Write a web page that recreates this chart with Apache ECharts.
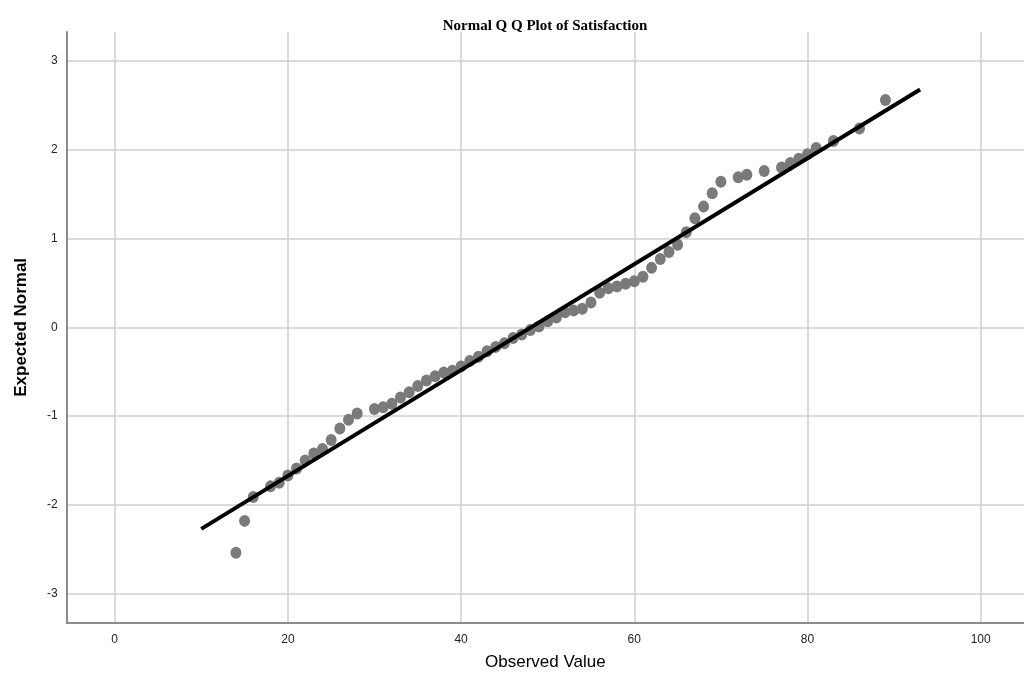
<!DOCTYPE html>
<html>
<head>
<meta charset="utf-8">
<script src="https://cdn.jsdelivr.net/npm/echarts@6/dist/echarts.min.js"></script>
<style>html,body{margin:0;padding:0;background:#fff}#c{width:1024px;height:693px}</style>
</head>
<body>
<div id="c"></div>
<script>
const observed = [14,15,16,18,19,20,21,22,23,24,25,26,27,28,30,31,32,33,34,35,36,37,38,39,40,41,42,43,44,45,46,47,48,49,50,51,52,53,54,55,56,57,58,59,60,61,62,63,64,65,66,67,68,69,70,72,73,75,77,78,79,80,81,83,86,89];
const expected = [-2.54,-2.18,-1.91,-1.79,-1.75,-1.67,-1.59,-1.50,-1.42,-1.37,-1.27,-1.14,-1.04,-0.97,-0.92,-0.90,-0.86,-0.79,-0.73,-0.66,-0.60,-0.55,-0.51,-0.49,-0.44,-0.38,-0.33,-0.27,-0.22,-0.18,-0.12,-0.08,-0.03,0.01,0.07,0.11,0.17,0.19,0.21,0.28,0.39,0.44,0.46,0.49,0.52,0.57,0.67,0.77,0.85,0.93,1.07,1.23,1.36,1.51,1.64,1.69,1.72,1.76,1.80,1.85,1.90,1.95,2.02,2.10,2.24,2.56];
const lineX = [10, 93];
const lineY = [-2.27, 2.68];
const xTicks = [0,20,40,60,80,100];
const yTicks = [-3,-2,-1,0,1,2,3];

const points = observed.map((v,i)=>[v, expected[i]]);
const linePts = lineX.map((v,i)=>[v, lineY[i]]);

const chart = echarts.init(document.getElementById('c'));
chart.setOption({
  animation:false,
  backgroundColor:'#fff',
  title:{
    text:'Normal Q Q Plot of Satisfaction',
    left:540, top:14, textAlign:'center',
    textStyle:{fontFamily:'Liberation Serif', fontWeight:'bold', fontSize:15, color:'#000'}
  },
  grid:{left:66.7, right:0, top:32, bottom:70.3, containLabel:false},
  xAxis:{
    type:'value', min:-5.54, max:105,
    name:'Observed Value', nameLocation:'middle', nameGap:31,
    nameTextStyle:{fontFamily:'Liberation Sans', fontSize:17, color:'#000'},
    axisLine:{show:true, onZero:false, lineStyle:{color:'#8c8c8c', width:2}},
    axisTick:{show:false},
    axisLabel:{showMinLabel:false, showMaxLabel:false, margin:11, fontFamily:'Liberation Sans', fontSize:12, color:'#222',
      formatter:v=>xTicks.includes(v)?String(v):''},
    splitLine:{show:true, showMinLine:false, showMaxLine:false, lineStyle:{color:'#cfcfcf', width:1.5}}
  },
  yAxis:{
    type:'value', min:-3.327, max:3.327,
    name:'Expected Normal', nameLocation:'middle', nameGap:37, nameRotate:90,
    nameTextStyle:{fontFamily:'Liberation Sans', fontWeight:'bold', fontSize:17, color:'#000'},
    axisLine:{show:true, onZero:false, lineStyle:{color:'#8c8c8c', width:2}},
    axisTick:{show:false},
    axisLabel:{showMinLabel:false, showMaxLabel:false, margin:9, fontFamily:'Liberation Sans', fontSize:12, color:'#222',
      formatter:v=>yTicks.includes(v)?String(v):''},
    splitLine:{show:true, showMinLine:false, showMaxLine:false, lineStyle:{color:'#cfcfcf', width:1.5}}
  },
  series:[
    {type:'scatter', data:points, symbol:'circle', symbolSize:[11,12],
     itemStyle:{color:'#7a7a7a', opacity:1}, z:2},
    {type:'line', data:linePts, symbol:'none', lineStyle:{color:'#000', width:4}, z:3}
  ]
});
</script>
</body>
</html>
